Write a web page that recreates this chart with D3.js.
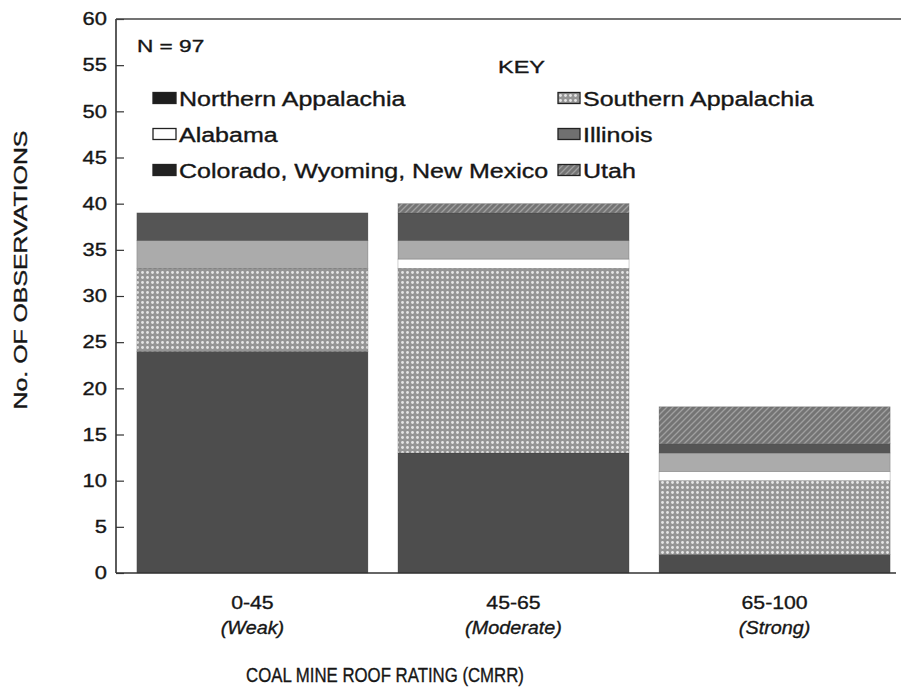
<!DOCTYPE html>
<html>
<head>
<meta charset="utf-8">
<script src="https://cdn.jsdelivr.net/npm/d3@7"></script>
<style>
  body { margin: 0; background: #fff; }
  text { font-family: "Liberation Sans", Arial, sans-serif; fill: #161616; stroke: #161616; stroke-width: 0.35; }
</style>
</head>
<body>
<div id="cht_Roof"></div>
<script>
const categories = ["0-45", "45-65", "65-100"];
const strengths = ["(Weak)", "(Moderate)", "(Strong)"];
const regions = [
  "Northern Appalachia",
  "Southern Appalachia",
  "Alabama",
  "Illinois",
  "Colorado, Wyoming, New Mexico",
  "Utah",
];
// observations per CMRR class, stacked bottom to top in this order
const northernAppalachia = [24, 13, 2];
const southernAppalachia = [9, 20, 8];
const alabama = [0, 1, 1];
const illinois = [3, 2, 2];
const coloradoWyomingNM = [3, 3, 1];
const utah = [0, 1, 4];
const yTicks = [0, 5, 10, 15, 20, 25, 30, 35, 40, 45, 50, 55, 60];
// legend is laid out in two columns
const legendLeft = ["Northern Appalachia", "Alabama", "Colorado, Wyoming, New Mexico"];
const legendRight = ["Southern Appalachia", "Illinois", "Utah"];

const width = 901,
  height = 692;
const plot = { left: 116, right: 901, top: 19, bottom: 573 };

const seriesValues = [
  northernAppalachia,
  southernAppalachia,
  alabama,
  illinois,
  coloradoWyomingNM,
  utah,
];
const rows = categories.map(function (c, i) {
  const r = { cat: c };
  regions.forEach(function (reg, j) {
    r[reg] = seriesValues[j][i];
  });
  return r;
});
const stacked = d3.stack().keys(regions)(rows);

var svg = d3
  .select("#cht_Roof")
  .append("svg")
  .attr("width", width)
  .attr("height", height);

// the scanned lettering is wider than Arial, so stretch it horizontally
function label(x, y, str, size, sx, anchor) {
  return svg
    .append("text")
    .attr("transform", `translate(${x},${y}) scale(${sx},1)`)
    .attr("text-anchor", anchor || "start")
    .attr("font-size", size)
    .text(str);
}

// fills: scanned greys and screen patterns
const defs = svg.append("defs");
const dots = defs
  .append("pattern")
  .attr("id", "patDots")
  .attr("width", 5)
  .attr("height", 5)
  .attr("patternUnits", "userSpaceOnUse");
dots.append("rect").attr("width", 5).attr("height", 5).attr("fill", "#959595");
dots.append("circle").attr("cx", 2.5).attr("cy", 2.5).attr("r", 1.4).attr("fill", "#e6e6e6");

const hatch = defs
  .append("pattern")
  .attr("id", "patHatch")
  .attr("width", 6)
  .attr("height", 6)
  .attr("patternUnits", "userSpaceOnUse");
hatch.append("rect").attr("width", 6).attr("height", 6).attr("fill", "#747474");
hatch
  .append("path")
  .attr("d", "M0,6 L6,0 M-1,1 L1,-1 M5,7 L7,5")
  .attr("stroke", "#a0a0a0")
  .attr("stroke-width", 1.3);

const fills = {
  "Northern Appalachia": "#4d4d4d",
  "Southern Appalachia": "url(#patDots)",
  Alabama: "#ffffff",
  Illinois: "#ababab",
  "Colorado, Wyoming, New Mexico": "#555555",
  Utah: "url(#patHatch)",
};
const swatchFills = {
  "Northern Appalachia": "#1e1e1e",
  "Southern Appalachia": "url(#patDots)",
  Alabama: "#ffffff",
  Illinois: "#707070",
  "Colorado, Wyoming, New Mexico": "#222222",
  Utah: "url(#patHatch)",
};

var x = d3
  .scaleBand()
  .domain(categories)
  .range([plot.left, 911])
  .paddingInner(0.115)
  .paddingOuter(0.08);

var y = d3.scaleLinear().domain([0, 60]).range([plot.bottom, plot.top]);

// stacked bars
svg
  .append("g")
  .selectAll("g")
  .data(stacked)
  .enter()
  .append("g")
  .attr("fill", function (d) {
    return fills[d.key];
  })
  .selectAll("rect")
  .data(function (d) {
    return d;
  })
  .enter()
  .append("rect")
  .attr("x", function (d) {
    return x(d.data.cat);
  })
  .attr("width", x.bandwidth())
  .attr("y", function (d) {
    return y(d[1]);
  })
  .attr("height", function (d) {
    return y(d[0]) - y(d[1]);
  })
  .attr("stroke", "#3a3a3a")
  .attr("stroke-width", 0.6)
  .attr("stroke-opacity", function (d) {
    return d[1] > d[0] ? 0.4 : 0;
  });

// y axis with inward ticks
const tickSx = 1.22;
var yAxis = d3.axisLeft(y).tickValues(yTicks).tickSize(-8).tickPadding(9);
svg
  .append("g")
  .attr("class", "y axis")
  .attr("transform", `translate(${plot.left},0)`)
  .call(yAxis)
  .call(function (g) {
    g.select(".domain").remove();
    g.selectAll(".tick line").attr("stroke", "#333").attr("stroke-width", 1.2);
    g.selectAll(".tick text")
      .attr("font-size", 18)
      .attr("font-family", null)
      .attr("fill", null)
      .attr("x", -9 / tickSx)
      .attr("transform", `scale(${tickSx},1)`);
  });

// frame lines: left axis, top border, baseline
svg
  .append("line")
  .attr("x1", plot.left)
  .attr("x2", plot.left)
  .attr("y1", y(60))
  .attr("y2", y(0))
  .attr("stroke", "#333")
  .attr("stroke-width", 1.6);
svg
  .append("line")
  .attr("x1", plot.left)
  .attr("x2", plot.right)
  .attr("y1", y(60))
  .attr("y2", y(60))
  .attr("stroke", "#444")
  .attr("stroke-width", 1.6);
svg
  .append("line")
  .attr("x1", plot.left)
  .attr("x2", 896)
  .attr("y1", y(0))
  .attr("y2", y(0))
  .attr("stroke", "#333")
  .attr("stroke-width", 1.6);

// category labels
categories.forEach(function (c, i) {
  const cx = x(c) + x.bandwidth() / 2;
  label(cx, 609, c, 19, 1.12, "middle");
  label(cx, 634, strengths[i], 18, 1.1, "middle").attr("font-style", "italic");
});

label(385, 682, "COAL MINE ROOF RATING (CMRR)", 20, 0.84, "middle");

svg
  .append("text")
  .attr("transform", "translate(27,270) rotate(-90) scale(1.38,1)")
  .attr("text-anchor", "middle")
  .attr("font-size", 18)
  .text("No. OF OBSERVATIONS");

// key
label(137, 52, "N = 97", 17, 1.33);
label(498, 73, "KEY", 17, 1.38);

function legendColumn(items, x0, sw) {
  const g = svg
    .append("g")
    .selectAll("g")
    .data(items)
    .enter()
    .append("g")
    .attr("transform", function (d, i) {
      return `translate(${x0},${98 + i * 36})`;
    });
  g.append("rect")
    .attr("x", 0)
    .attr("y", -5.5)
    .attr("width", sw)
    .attr("height", 11)
    .attr("fill", function (d) {
      return swatchFills[d];
    })
    .attr("stroke", "#222")
    .attr("stroke-width", 1.3);
  g.append("text")
    .attr("transform", `translate(${sw + 3},8) scale(1.25,1)`)
    .attr("font-size", 20)
    .text(function (d) {
      return d;
    });
}
legendColumn(legendLeft, 153, 23);
legendColumn(legendRight, 558, 22);
</script>
</body>
</html>
